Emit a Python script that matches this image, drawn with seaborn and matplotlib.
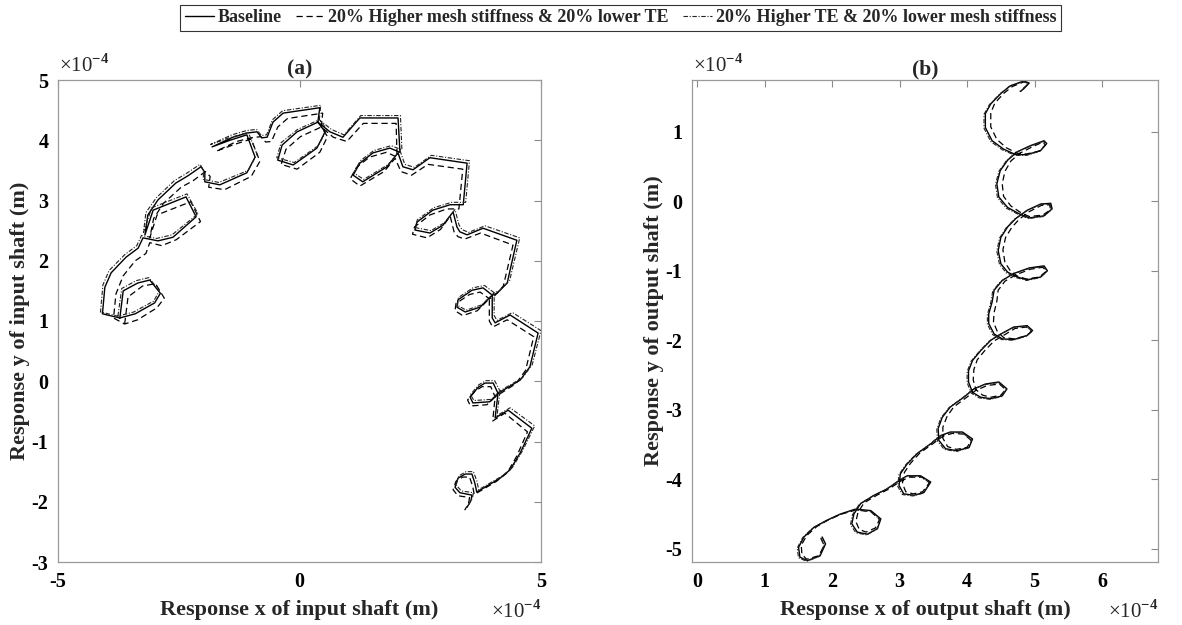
import matplotlib
matplotlib.use("Agg")
import matplotlib.pyplot as plt
import seaborn as sns
from matplotlib.lines import Line2D

# ---------------- data (units of 1e-4 m) ----------------
# (a) input shaft orbit
input_baseline = [
    (-3.72, 1.05), (-3.65, 1.50), (-3.35, 1.63), (-3.10, 1.68), (-2.88, 1.46), (-3.00, 1.30),
    (-3.40, 1.12), (-3.72, 1.05), (-4.08, 1.12), (-4.03, 1.56), (-3.90, 1.80), (-3.59, 2.06),
    (-3.34, 2.21), (-3.24, 2.38), (-2.93, 2.33), (-2.62, 2.39), (-2.14, 2.73), (-2.35, 3.06),
    (-3.03, 2.84), (-3.20, 2.43), (-3.14, 2.76), (-2.93, 3.01), (-2.56, 3.29), (-2.31, 3.41),
    (-2.04, 3.56), (-1.96, 3.47), (-1.96, 3.31), (-1.65, 3.26), (-1.09, 3.46), (-0.92, 3.72),
    (-1.09, 4.09), (-1.44, 4.00), (-1.81, 3.89), (-1.38, 4.05), (-1.09, 4.12), (-0.88, 4.14),
    (-0.78, 4.04), (-0.67, 4.05), (-0.55, 4.30), (-0.34, 4.45), (0.42, 4.54), (0.38, 4.30),
    (0.53, 4.14), (0.36, 3.87), (-0.13, 3.59), (-0.45, 3.67), (-0.36, 3.92), (-0.05, 4.14),
    (0.38, 4.30), (0.63, 4.14), (0.90, 4.05), (1.25, 4.37), (2.04, 4.37), (2.08, 3.80),
    (1.87, 3.87), (1.52, 3.79), (1.25, 3.62), (1.11, 3.42), (1.31, 3.31), (1.81, 3.56),
    (2.04, 3.79), (2.14, 3.56), (2.35, 3.51), (2.70, 3.71), (3.47, 3.62), (3.39, 2.93),
    (3.12, 2.93), (2.76, 2.84), (2.43, 2.64), (2.39, 2.51), (2.70, 2.46), (2.97, 2.59),
    (3.18, 2.81), (3.26, 2.56), (3.32, 2.48), (3.47, 2.43), (3.80, 2.54), (4.50, 2.34),
    (4.30, 1.63), (4.09, 1.46), (3.99, 1.43), (3.80, 1.55), (3.57, 1.51), (3.28, 1.35),
    (3.26, 1.23), (3.43, 1.15), (3.74, 1.23), (3.99, 1.43), (3.99, 1.05), (4.05, 0.97),
    (4.36, 1.10), (4.94, 0.80), (4.77, 0.24), (4.57, 0.02), (4.11, -0.20), (4.01, -0.03),
    (3.84, -0.03), (3.70, -0.10), (3.53, -0.26), (3.59, -0.36), (3.94, -0.34), (4.11, -0.20),
    (4.05, -0.61), (4.32, -0.48), (4.81, -0.78), (4.57, -1.19), (4.36, -1.47), (4.15, -1.61),
    (3.67, -1.84), (3.63, -1.69), (3.57, -1.54), (3.43, -1.54), (3.28, -1.61), (3.22, -1.76),
    (3.32, -1.85), (3.57, -1.89), (3.55, -1.98), (3.47, -2.09),
]

input_stiff_up = [
    (-3.62, 0.95), (-3.55, 1.40), (-3.25, 1.58), (-2.98, 1.62), (-2.80, 1.38), (-2.95, 1.22),
    (-3.35, 1.02), (-3.62, 0.95), (-3.85, 1.05), (-3.80, 1.45), (-3.65, 1.75), (-3.40, 2.00),
    (-3.18, 2.12), (-3.10, 2.30), (-2.85, 2.25), (-2.55, 2.35), (-2.05, 2.65), (-2.25, 2.98),
    (-2.95, 2.76), (-3.10, 2.38), (-3.02, 2.70), (-2.82, 2.95), (-2.45, 3.22), (-2.20, 3.33),
    (-1.95, 3.48), (-1.85, 3.40), (-1.88, 3.22), (-1.55, 3.18), (-1.00, 3.40), (-0.82, 3.65),
    (-1.00, 4.02), (-1.35, 3.93), (-1.72, 3.82), (-1.30, 3.98), (-1.00, 4.04), (-0.80, 4.06),
    (-0.70, 3.97), (-0.58, 3.98), (-0.45, 4.22), (-0.25, 4.36), (0.48, 4.45), (0.45, 4.22),
    (0.58, 4.06), (0.42, 3.80), (-0.05, 3.52), (-0.38, 3.60), (-0.28, 3.85), (0.02, 4.06),
    (0.45, 4.22), (0.70, 4.05), (0.98, 3.98), (1.32, 4.28), (2.00, 4.28), (2.02, 3.72),
    (1.80, 3.80), (1.45, 3.72), (1.18, 3.55), (1.05, 3.36), (1.25, 3.24), (1.75, 3.48),
    (1.98, 3.70), (2.10, 3.48), (2.32, 3.42), (2.66, 3.60), (3.38, 3.52), (3.30, 2.86),
    (3.05, 2.86), (2.70, 2.76), (2.38, 2.56), (2.34, 2.44), (2.64, 2.38), (2.92, 2.52),
    (3.12, 2.74), (3.20, 2.48), (3.28, 2.40), (3.42, 2.36), (3.75, 2.46), (4.42, 2.26),
    (4.22, 1.58), (4.02, 1.40), (3.93, 1.37), (3.74, 1.48), (3.52, 1.44), (3.24, 1.29),
    (3.22, 1.17), (3.38, 1.09), (3.68, 1.17), (3.93, 1.37), (3.93, 1.00), (4.00, 0.90),
    (4.30, 1.02), (4.85, 0.74), (4.68, 0.18), (4.48, -0.04), (4.05, -0.26), (3.96, -0.09),
    (3.78, -0.09), (3.64, -0.16), (3.48, -0.31), (3.54, -0.41), (3.88, -0.39), (4.05, -0.26),
    (4.00, -0.66), (4.25, -0.53), (4.72, -0.84), (4.50, -1.24), (4.30, -1.52), (4.08, -1.66),
    (3.62, -1.88), (3.58, -1.73), (3.52, -1.59), (3.38, -1.59), (3.24, -1.66), (3.18, -1.80),
    (3.28, -1.90), (3.52, -1.93), (3.50, -2.03), (3.42, -2.14),
]

input_te_up = [
    (-3.76, 1.08), (-3.68, 1.54), (-3.38, 1.67), (-3.12, 1.72), (-2.90, 1.50), (-3.02, 1.33),
    (-3.43, 1.15), (-3.76, 1.08), (-4.12, 1.15), (-4.07, 1.60), (-3.94, 1.84), (-3.62, 2.10),
    (-3.37, 2.25), (-3.27, 2.42), (-2.96, 2.37), (-2.64, 2.43), (-2.10, 2.78), (-2.33, 3.11),
    (-3.06, 2.88), (-3.23, 2.47), (-3.18, 2.80), (-2.96, 3.05), (-2.59, 3.33), (-2.34, 3.45),
    (-2.06, 3.60), (-1.99, 3.51), (-1.99, 3.35), (-1.67, 3.30), (-1.06, 3.50), (-0.88, 3.77),
    (-1.06, 4.13), (-1.46, 4.04), (-1.84, 3.93), (-1.40, 4.09), (-1.10, 4.16), (-0.89, 4.18),
    (-0.79, 4.08), (-0.68, 4.09), (-0.56, 4.34), (-0.35, 4.49), (0.44, 4.58), (0.41, 4.34),
    (0.57, 4.18), (0.39, 3.91), (-0.11, 3.63), (-0.47, 3.71), (-0.38, 3.96), (-0.04, 4.18),
    (0.41, 4.34), (0.66, 4.18), (0.92, 4.09), (1.27, 4.41), (2.09, 4.41), (2.12, 3.84),
    (1.90, 3.91), (1.54, 3.83), (1.26, 3.66), (1.12, 3.46), (1.33, 3.35), (1.84, 3.60),
    (2.08, 3.83), (2.18, 3.60), (2.38, 3.55), (2.73, 3.75), (3.52, 3.66), (3.44, 2.97),
    (3.15, 2.97), (2.78, 2.88), (2.44, 2.68), (2.40, 2.55), (2.72, 2.50), (3.00, 2.63),
    (3.22, 2.85), (3.30, 2.60), (3.36, 2.52), (3.50, 2.47), (3.84, 2.58), (4.56, 2.38),
    (4.35, 1.67), (4.13, 1.50), (4.03, 1.47), (3.83, 1.59), (3.59, 1.55), (3.29, 1.39),
    (3.27, 1.26), (3.45, 1.18), (3.78, 1.27), (4.03, 1.47), (4.03, 1.09), (4.09, 1.01),
    (4.41, 1.14), (5.00, 0.84), (4.82, 0.28), (4.62, 0.06), (4.15, -0.16), (4.04, 0.01),
    (3.86, 0.01), (3.71, -0.06), (3.54, -0.22), (3.61, -0.32), (3.98, -0.30), (4.15, -0.16),
    (4.09, -0.57), (4.36, -0.44), (4.87, -0.74), (4.62, -1.15), (4.41, -1.43), (4.20, -1.57),
    (3.71, -1.80), (3.67, -1.65), (3.60, -1.50), (3.45, -1.50), (3.30, -1.57), (3.24, -1.72),
    (3.35, -1.82), (3.60, -1.85), (3.58, -1.94), (3.50, -2.05),
]

# (b) output shaft orbit
output_baseline_x = [
    1.85, 1.90, 1.82, 1.63, 1.52, 1.50, 1.58, 1.73, 1.92, 2.12,
    2.34, 2.57, 2.72, 2.67, 2.52, 2.37, 2.29, 2.32, 2.42, 2.62,
    2.81, 2.99, 3.11, 3.31, 3.46, 3.36, 3.21, 3.06, 2.99, 3.01,
    3.11, 3.26, 3.46, 3.61, 3.75, 3.93, 4.08, 4.03, 3.85, 3.68,
    3.58, 3.57, 3.63, 3.75, 3.95, 4.10, 4.27, 4.47, 4.59, 4.52,
    4.35, 4.20, 4.08, 4.02, 4.02, 4.08, 4.20, 4.35, 4.50, 4.69,
    4.89, 4.97, 4.89, 4.69, 4.52, 4.40, 4.32, 4.32, 4.37, 4.40,
    4.52, 4.69, 4.92, 5.14, 5.19, 5.09, 4.89, 4.74, 4.60, 4.50,
    4.46, 4.50, 4.60, 4.72, 4.89, 5.09, 5.24, 5.26, 5.14, 4.92,
    4.77, 4.60, 4.47, 4.44, 4.49, 4.60, 4.74, 4.94, 5.14, 5.18,
    5.09, 4.89, 4.72, 4.54, 4.37, 4.27, 4.27, 4.35, 4.50, 4.64,
    4.84, 4.92, 4.84, 4.79,
]
output_baseline_y = [
    -4.83, -4.93, -5.10, -5.17, -5.12, -4.98, -4.83, -4.69, -4.59, -4.50,
    -4.43, -4.45, -4.57, -4.71, -4.79, -4.76, -4.64, -4.50, -4.35, -4.23,
    -4.14, -4.02, -3.95, -3.95, -4.04, -4.19, -4.23, -4.21, -4.09, -3.92,
    -3.78, -3.63, -3.49, -3.37, -3.32, -3.32, -3.42, -3.54, -3.59, -3.56,
    -3.44, -3.27, -3.11, -2.96, -2.82, -2.70, -2.63, -2.60, -2.70, -2.80,
    -2.84, -2.82, -2.75, -2.60, -2.44, -2.29, -2.15, -2.00, -1.91, -1.81,
    -1.79, -1.86, -1.93, -1.99, -1.98, -1.91, -1.76, -1.62, -1.45, -1.28,
    -1.14, -1.04, -0.96, -0.93, -1.00, -1.09, -1.13, -1.09, -1.02, -0.90,
    -0.71, -0.52, -0.37, -0.25, -0.13, -0.04, -0.03, -0.11, -0.21, -0.24,
    -0.18, -0.09, 0.06, 0.25, 0.44, 0.59, 0.71, 0.80, 0.87, 0.83,
    0.73, 0.67, 0.67, 0.75, 0.87, 1.06, 1.26, 1.40, 1.55, 1.66,
    1.73, 1.70, 1.62, 1.58,
]

output_stiff_up_x = [
    1.83, 1.88, 1.80, 1.62, 1.55, 1.54, 1.62, 1.77, 1.95, 2.14,
    2.36, 2.58, 2.70, 2.64, 2.50, 2.40, 2.35, 2.38, 2.47, 2.66,
    2.84, 3.01, 3.14, 3.33, 3.44, 3.34, 3.20, 3.09, 3.04, 3.07,
    3.16, 3.30, 3.49, 3.64, 3.78, 3.95, 4.06, 4.00, 3.84, 3.71,
    3.64, 3.64, 3.70, 3.80, 3.98, 4.13, 4.30, 4.48, 4.57, 4.50,
    4.35, 4.23, 4.13, 4.09, 4.10, 4.15, 4.26, 4.40, 4.54, 4.71,
    4.88, 4.95, 4.87, 4.69, 4.54, 4.45, 4.39, 4.40, 4.44, 4.46,
    4.56, 4.72, 4.93, 5.12, 5.17, 5.07, 4.88, 4.75, 4.64, 4.56,
    4.53, 4.57, 4.66, 4.77, 4.92, 5.10, 5.22, 5.24, 5.12, 4.92,
    4.79, 4.65, 4.54, 4.52, 4.56, 4.65, 4.78, 4.96, 5.12, 5.16,
    5.07, 4.88, 4.74, 4.58, 4.44, 4.35, 4.35, 4.41, 4.54, 4.67,
    4.85, 4.91, 4.83, 4.78,
]
output_stiff_up_y = [
    -4.85, -4.95, -5.10, -5.15, -5.08, -4.95, -4.81, -4.68, -4.58, -4.50,
    -4.44, -4.47, -4.58, -4.70, -4.76, -4.72, -4.61, -4.48, -4.34, -4.23,
    -4.14, -4.03, -3.97, -3.97, -4.05, -4.18, -4.21, -4.18, -4.06, -3.90,
    -3.77, -3.62, -3.49, -3.38, -3.34, -3.35, -3.44, -3.54, -3.57, -3.53,
    -3.41, -3.25, -3.10, -2.96, -2.83, -2.72, -2.65, -2.63, -2.71, -2.79,
    -2.82, -2.79, -2.71, -2.57, -2.42, -2.28, -2.15, -2.01, -1.93, -1.83,
    -1.81, -1.88, -1.94, -1.98, -1.96, -1.88, -1.74, -1.60, -1.44, -1.28,
    -1.15, -1.06, -0.98, -0.95, -1.01, -1.09, -1.12, -1.08, -1.00, -0.88,
    -0.70, -0.52, -0.38, -0.26, -0.15, -0.06, -0.05, -0.12, -0.20, -0.22,
    -0.16, -0.07, 0.07, 0.25, 0.43, 0.58, 0.69, 0.78, 0.85, 0.81,
    0.72, 0.68, 0.69, 0.77, 0.89, 1.07, 1.27, 1.41, 1.55, 1.65,
    1.72, 1.69, 1.62, 1.58,
]

output_te_up_x = [
    1.83, 1.88, 1.81, 1.62, 1.50, 1.48, 1.56, 1.71, 1.90, 2.10,
    2.32, 2.56, 2.71, 2.66, 2.51, 2.35, 2.27, 2.30, 2.40, 2.60,
    2.79, 2.97, 3.09, 3.30, 3.45, 3.35, 3.20, 3.04, 2.97, 2.99,
    3.09, 3.24, 3.44, 3.59, 3.74, 3.92, 4.07, 4.02, 3.84, 3.66,
    3.56, 3.55, 3.61, 3.73, 3.93, 4.08, 4.25, 4.46, 4.58, 4.51,
    4.34, 4.18, 4.06, 4.00, 4.00, 4.06, 4.18, 4.33, 4.48, 4.68,
    4.88, 4.96, 4.88, 4.68, 4.51, 4.38, 4.30, 4.30, 4.35, 4.38,
    4.50, 4.67, 4.91, 5.13, 5.18, 5.08, 4.88, 4.73, 4.58, 4.48,
    4.44, 4.48, 4.58, 4.70, 4.88, 5.08, 5.23, 5.25, 5.13, 4.91,
    4.76, 4.58, 4.45, 4.42, 4.47, 4.58, 4.72, 4.93, 5.13, 5.17,
    5.08, 4.88, 4.71, 4.52, 4.35, 4.25, 4.25, 4.33, 4.48, 4.62,
    4.83, 4.91, 4.83, 4.78,
]
output_te_up_y = [
    -4.84, -4.94, -5.11, -5.18, -5.13, -4.99, -4.84, -4.70, -4.60, -4.51,
    -4.44, -4.46, -4.58, -4.72, -4.80, -4.77, -4.65, -4.51, -4.36, -4.24,
    -4.15, -4.03, -3.96, -3.96, -4.05, -4.20, -4.24, -4.22, -4.10, -3.93,
    -3.79, -3.64, -3.50, -3.38, -3.33, -3.33, -3.43, -3.55, -3.60, -3.57,
    -3.45, -3.28, -3.12, -2.97, -2.83, -2.71, -2.64, -2.61, -2.71, -2.81,
    -2.85, -2.83, -2.76, -2.61, -2.45, -2.30, -2.16, -2.01, -1.92, -1.82,
    -1.80, -1.87, -1.94, -2.00, -1.99, -1.92, -1.77, -1.63, -1.46, -1.29,
    -1.15, -1.05, -0.97, -0.94, -1.01, -1.10, -1.14, -1.10, -1.03, -0.91,
    -0.72, -0.53, -0.38, -0.26, -0.14, -0.05, -0.04, -0.12, -0.22, -0.25,
    -0.19, -0.10, 0.05, 0.24, 0.43, 0.58, 0.70, 0.79, 0.86, 0.82,
    0.72, 0.66, 0.66, 0.74, 0.86, 1.05, 1.25, 1.39, 1.54, 1.65,
    1.72, 1.69, 1.61, 1.57,
]

series_labels = [
    "Baseline",
    "20% Higher mesh stiffness & 20% lower TE",
    "20% Higher TE & 20% lower mesh stiffness",
]

# ---------------- style ----------------
sns.set_theme(style="white")
plt.rcParams.update({
    "font.family": ["Liberation Serif", "DejaVu Serif"],
    "font.weight": "bold",
    "axes.unicode_minus": False,
    "mathtext.fontset": "custom",
    "mathtext.rm": "Liberation Serif",
    "mathtext.bf": "Liberation Serif:bold",
})

line_styles = [
    dict(color="black", lw=1.0, linestyle="-"),
    dict(color="black", lw=0.9, linestyle=(0, (5, 3))),
    dict(color="#222222", lw=0.8, linestyle=(0, (4, 1.5, 1, 1.5))),
]

fig = plt.figure(figsize=(11.82, 6.25), dpi=100)
W, H = 1182, 625
ax_a = fig.add_axes([58 / W, 1 - 562 / H, 483 / W, 482 / H])
ax_b = fig.add_axes([692 / W, 1 - 562 / H, 466 / W, 482 / H])

# panel (a)
for pts, st in zip([input_baseline, input_stiff_up, input_te_up], line_styles):
    xs = [p[0] for p in pts]
    ys = [p[1] for p in pts]
    sns.lineplot(x=xs, y=ys, sort=False, estimator=None, ax=ax_a, legend=False, **st)

# panel (b)
for xs, ys, st in zip([output_baseline_x, output_stiff_up_x, output_te_up_x],
                      [output_baseline_y, output_stiff_up_y, output_te_up_y], line_styles):
    sns.lineplot(x=xs, y=ys, sort=False, estimator=None, ax=ax_b, legend=False, **st)

ax_a.set_xlim(-5, 5)
ax_a.set_ylim(-3, 5)
ax_a.set_xticks([-5, 0, 5])
ax_a.set_yticks(range(-3, 6))

ax_b.set_xlim(-0.08, 6.83)
ax_b.set_ylim(-5.19, 1.744)
ax_b.set_xticks(range(0, 7))
ax_b.set_yticks(range(-5, 2))

for ax, title, xl, yl in [
    (ax_a, "(a)", "Response x of input shaft (m)", "Response y of input shaft (m)"),
    (ax_b, "(b)", "Response x of output shaft (m)", "Response y of output shaft (m)"),
]:
    ax.tick_params(direction="in", top=True, right=True, length=5, width=0.8,
                   color="#8a8a8a", labelsize=14.5, pad=7, labelcolor="black")
    for sp in ax.spines.values():
        sp.set_color("#9a9a9a")
        sp.set_linewidth(0.9)
    ax.set_title(title, fontsize=15.5, fontweight="bold", pad=4)
    ax.set_xlabel(xl, fontsize=16, fontweight="bold", labelpad=6)
    ax.set_ylabel(yl, fontsize=16, fontweight="bold", labelpad=1)
    ax.text(0.003, 1.006, "×10$^{-4}$", transform=ax.transAxes, ha="left", va="bottom",
            fontsize=15, fontweight="normal")
    ax.text(1.0, -0.08, "×10$^{-4}$", transform=ax.transAxes, ha="right", va="top",
            fontsize=15, fontweight="normal")

handles = [Line2D([0], [0], **st) for st in line_styles]
leg = fig.legend(handles, series_labels, loc="upper center", bbox_to_anchor=(0.525, 0.998),
                 ncol=3, fontsize=13, frameon=True, fancybox=False, handlelength=1.6,
                 handletextpad=0.2, columnspacing=0.8, borderpad=0.25, borderaxespad=0.2)
leg.get_frame().set_edgecolor("black")
leg.get_frame().set_linewidth(0.8)
for t in leg.get_texts():
    t.set_fontweight("bold")

fig.savefig("out.png", dpi=100)
